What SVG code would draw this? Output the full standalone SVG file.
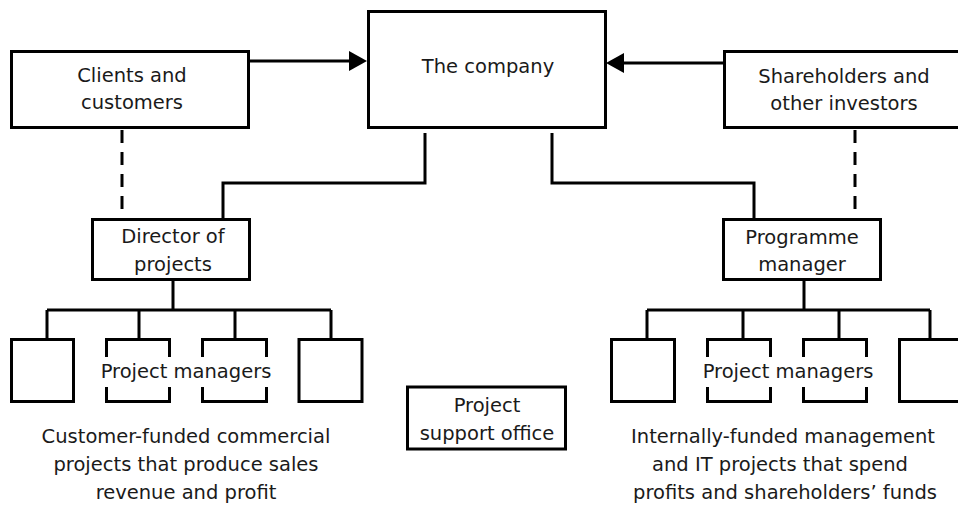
<svg xmlns="http://www.w3.org/2000/svg" width="958" height="506" viewBox="0 0 958 506">
<style>
.box{fill:#fff;stroke:#000;stroke-width:3}
.ln{fill:none;stroke:#000;stroke-width:3}
.dash{fill:none;stroke:#000;stroke-width:3;stroke-dasharray:13 9}
text{font-family:"DejaVu Sans","Liberation Sans",sans-serif;font-size:19.5px;fill:#1a1a1a;text-anchor:middle}
</style>
<rect width="958" height="506" fill="#fff"/>
<g id="connectors">
<path class="ln" d="M249,61 H352"/>
<polygon points="349,51 367,61 349,71" fill="#000"/>
<path class="ln" d="M724,63 H622"/>
<polygon points="624,53 606,63 624,73" fill="#000"/>
<path class="ln" d="M425,133 V183 H223 V219"/>
<path class="ln" d="M552,133 V183 H754 V219"/>
<path class="dash" d="M122,130 V218"/>
<path class="dash" d="M855,130 V218"/>
<path class="ln" d="M173,280 V310 M47,310 H331 M47,310 V339 M139,310 V339 M235,310 V339 M331,310 V339"/>
<path class="ln" d="M804,280 V310 M647,310 H930 M647,310 V339 M743,310 V339 M839,310 V339 M930,310 V339"/>
</g>
<g id="clients">
<rect class="box" x="11.5" y="51.5" width="237" height="76"/>
<text x="132" y="82">Clients and</text>
<text x="132" y="109">customers</text>
</g>
<g id="company">
<rect class="box" x="368.5" y="11.5" width="237" height="116"/>
<text x="488" y="73">The company</text>
</g>
<g id="shareholders">
<rect class="box" x="724.5" y="51.5" width="245" height="76"/>
<text x="844" y="83">Shareholders and</text>
<text x="844" y="110">other investors</text>
</g>
<g id="director">
<rect class="box" x="92.5" y="219.5" width="157" height="60"/>
<text x="173" y="243">Director of</text>
<text x="173" y="271">projects</text>
</g>
<g id="programme">
<rect class="box" x="723.5" y="219.5" width="157" height="60"/>
<text x="802" y="244">Programme</text>
<text x="802" y="271">manager</text>
</g>
<g id="pm-left">
<rect class="box" x="11.5" y="339.5" width="62" height="62"/>
<path class="ln" d="M106.5,357 V339.5 H169.5 V357 M106.5,387 V401.5 H169.5 V387"/>
<path class="ln" d="M202.5,357 V339.5 H266.5 V357 M202.5,387 V401.5 H266.5 V387"/>
<rect class="box" x="299" y="339.5" width="63" height="62"/>
<text x="186" y="378">Project managers</text>
</g>
<g id="pm-right">
<rect class="box" x="611.5" y="339.5" width="63" height="62"/>
<path class="ln" d="M707.5,357 V339.5 H770.5 V357 M707.5,387 V401.5 H770.5 V387"/>
<path class="ln" d="M803.5,357 V339.5 H866.5 V357 M803.5,387 V401.5 H866.5 V387"/>
<rect class="box" x="899.5" y="339.5" width="70" height="62"/>
<text x="788" y="378">Project managers</text>
</g>
<g id="support">
<rect class="box" x="407.5" y="387" width="158" height="62"/>
<text x="487" y="412">Project</text>
<text x="487" y="440">support office</text>
</g>
<g id="caption-left">
<text x="186" y="443">Customer-funded commercial</text>
<text x="186" y="471">projects that produce sales</text>
<text x="186" y="499">revenue and profit</text>
</g>
<g id="caption-right">
<text x="783" y="443">Internally-funded management</text>
<text x="780" y="471">and IT projects that spend</text>
<text x="785" y="499">profits and shareholders’ funds</text>
</g>
</svg>
